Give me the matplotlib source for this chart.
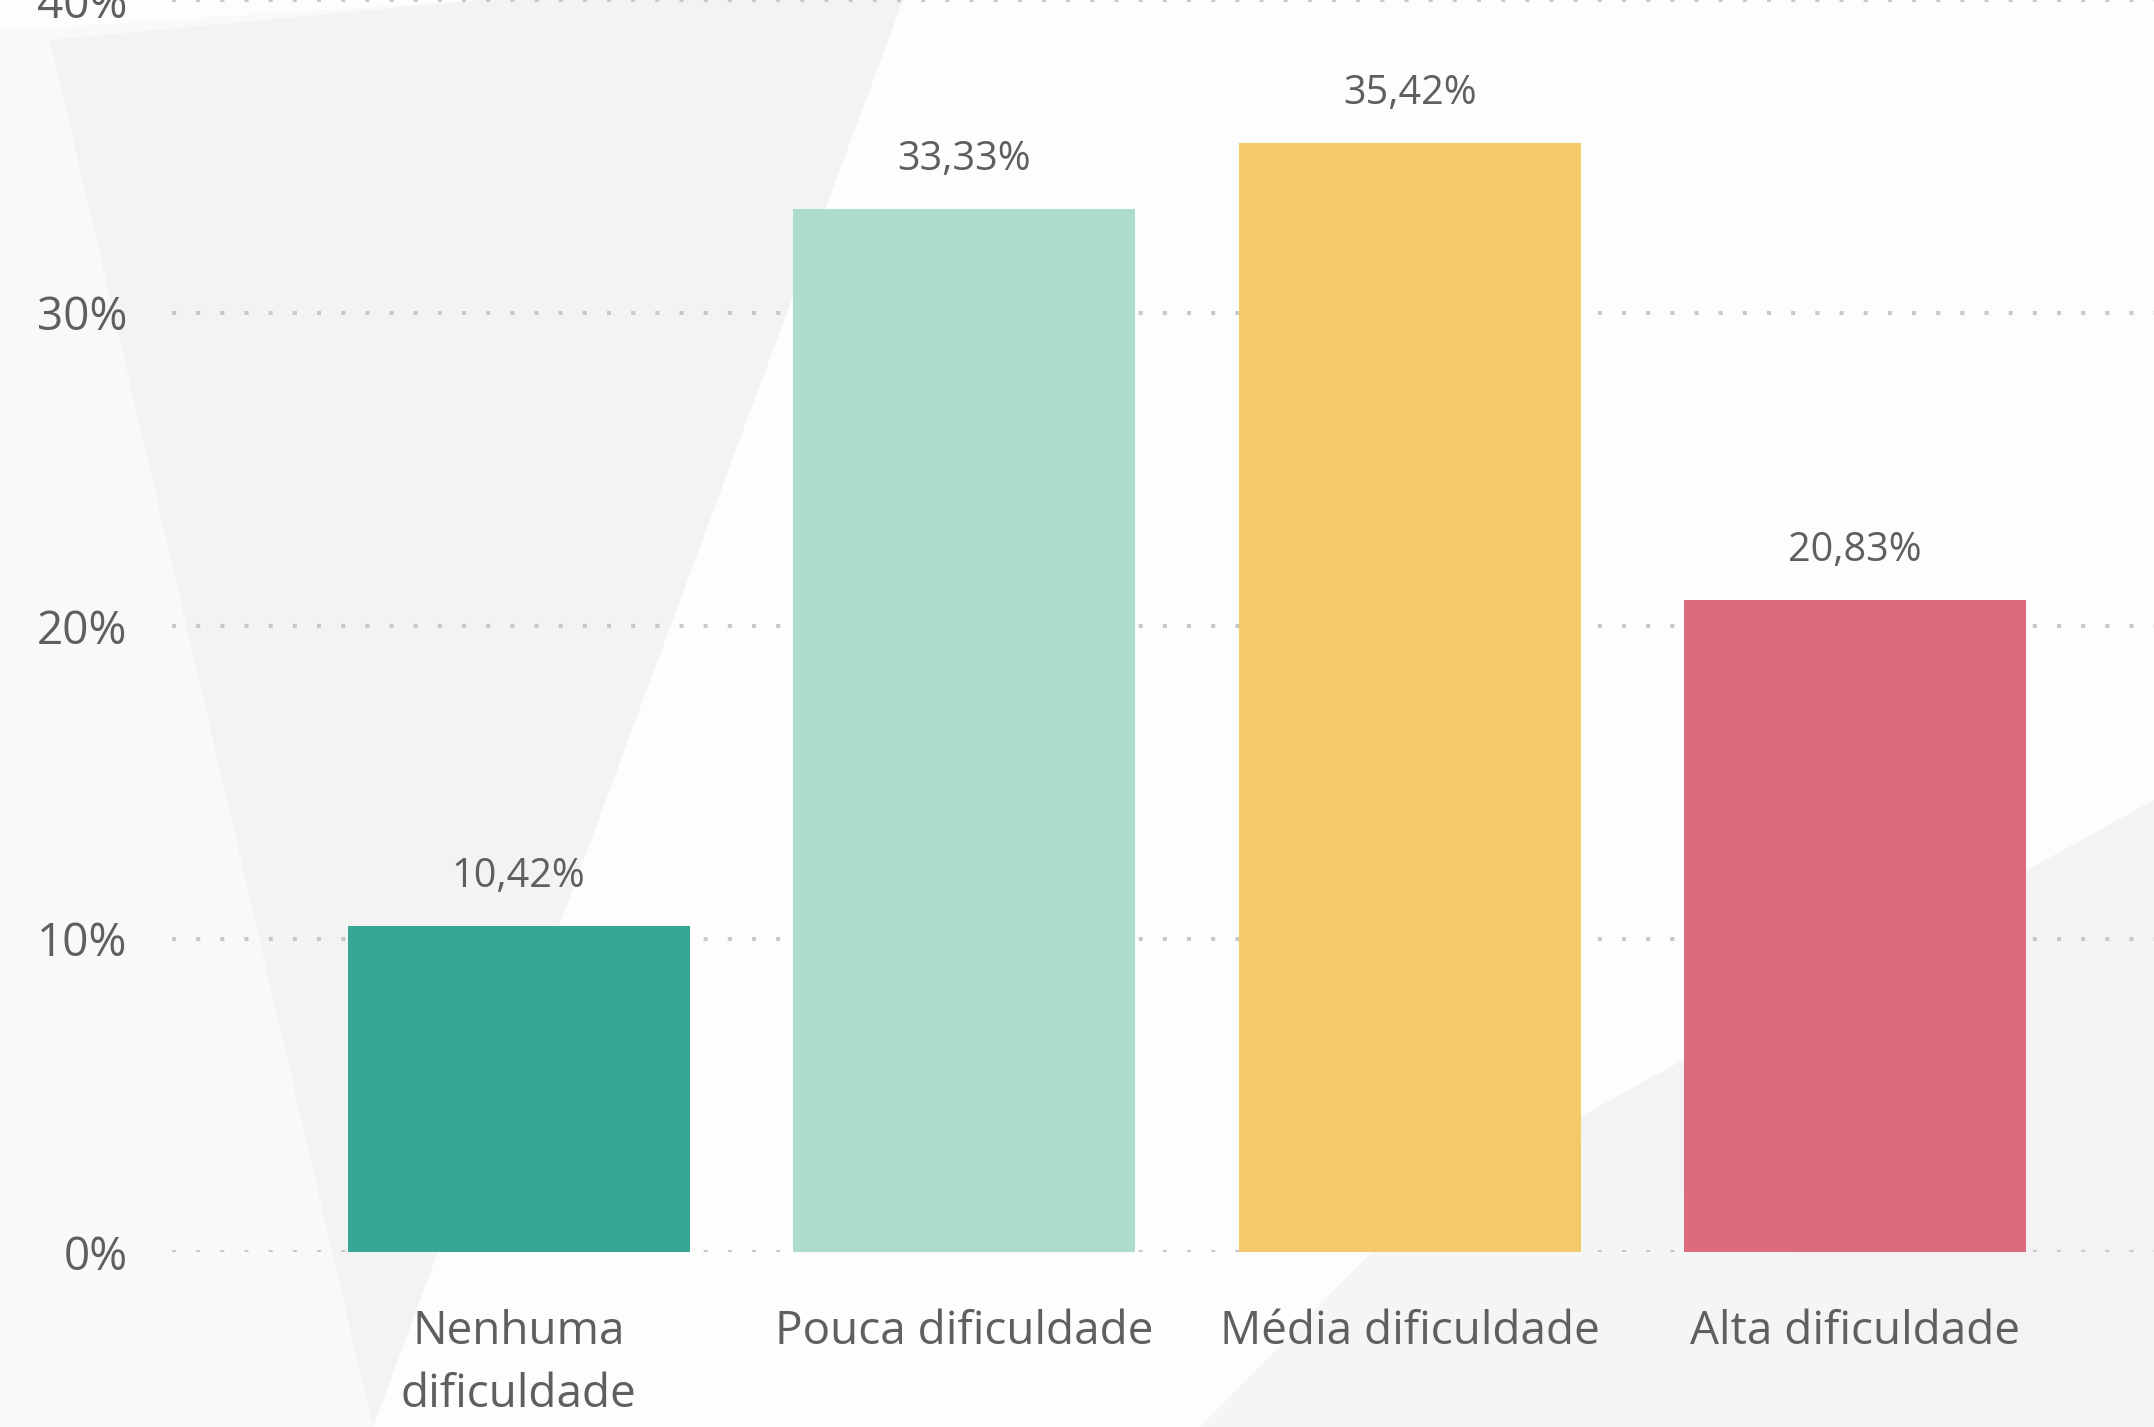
import matplotlib
matplotlib.use('Agg')
import matplotlib.pyplot as plt
from matplotlib.patches import Polygon

plt.rcParams['font.family'] = ['Open Sans', 'DejaVu Sans']

# Dados
categorias = ['Nenhuma\ndificuldade', 'Pouca dificuldade', 'Média dificuldade', 'Alta dificuldade']
valores = [10.42, 33.33, 35.42, 20.83]
rotulos = ['10,42%', '33,33%', '35,42%', '20,83%']
cores = ['#37a794', '#addccb', '#f3c96b', '#dd6b7f']
ticks_y = [0, 10, 20, 30, 40]

texto_cor = '#5f5f5f'
W, H = 2154, 1427

fig = plt.figure(figsize=(W / 100, H / 100), dpi=100)
fig.patch.set_facecolor('#fdfdfd')

# Formas decorativas do fundo (coordenadas em pixels da imagem)
fundo = fig.add_axes([0, 0, 1, 1], zorder=0)
fundo.set_xlim(0, W)
fundo.set_ylim(H, 0)
fundo.axis('off')
formas = [
    ([(0, 31), (480, 0), (373, 1427), (0, 1427)], '#f8f9f9'),
    ([(50, 40), (480, 0), (903, 0), (373, 1427)], '#f3f3f3'),
    ([(1200, 1427), (1372, 1252), (1560, 1128), (2154, 1460), (2154, 1427)], '#f4f5f5'),
    ([(1560, 1128), (2154, 800), (2154, 1460)], '#f3f3f3'),
]
for pts, cor in formas:
    fundo.add_patch(Polygon(pts, closed=True, facecolor=cor, edgecolor='none'))

# Gráfico de barras
ax = fig.add_axes([172 / W, 1 - 1252 / H, 1 - 172 / W, 1252 / H], zorder=1)
ax.patch.set_alpha(0)
x = range(len(categorias))
ax.bar(x, valores, width=0.768, color=cores, zorder=2)

for i, (v, r) in enumerate(zip(valores, rotulos)):
    ax.annotate(r, (i, v), xytext=(0, 28), textcoords='offset points',
                ha='center', va='baseline', fontsize=28.5, color=texto_cor)

ax.set_xlim(-0.778, 3.671)
ax.set_ylim(0, 40)
ax.set_yticks(ticks_y)
ax.set_yticklabels([f'{t}%' for t in ticks_y], fontsize=33, color=texto_cor)
ax.set_xticks(list(x))
ax.set_xticklabels(categorias, fontsize=33, color=texto_cor, linespacing=1.5)
ax.tick_params(axis='y', length=0, pad=32)
ax.tick_params(axis='x', length=0, pad=41)

ax.grid(axis='y', color='#c8c8c8', linewidth=2.9, linestyle=(0, (1, 5)), dash_capstyle='butt')
ax.set_axisbelow(True)
for s in ax.spines.values():
    s.set_visible(False)

fig.savefig('out.png', dpi=100, facecolor=fig.get_facecolor())
